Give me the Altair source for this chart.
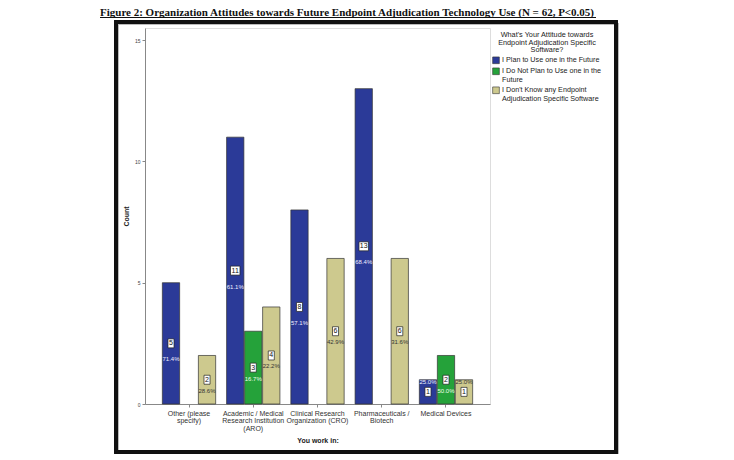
import altair as alt
import pandas as pd

categories = [
    "Other (please specify)",
    "Academic / Medical Research Institution (ARO)",
    "Clinical Research Organization (CRO)",
    "Pharmaceuticals / Biotech",
    "Medical Devices",
]
cat_lines = [
    ["Other (please", "specify)"],
    ["Academic / Medical", "Research Institution", "(ARO)"],
    ["Clinical Research", "Organization (CRO)"],
    ["Pharmaceuticals /", "Biotech"],
    ["Medical Devices"],
]
series = [
    "I Plan to Use one in the Future",
    "I Do Not Plan to Use one in the Future",
    "I Don't Know any Endpoint Adjudication Specific Software",
]
series_lines = [
    ["I Plan to Use one in the Future"],
    ["I Do Not Plan to Use one in the", "Future"],
    ["I Don't Know any Endpoint", "Adjudication Specific Software"],
]
plan = [5, 11, 8, 13, 1]
not_plan = [0, 3, 0, 0, 2]
dont_know = [2, 4, 6, 6, 1]
pct_plan = ["71.4%", "61.1%", "57.1%", "68.4%", "25.0%"]
pct_not = ["", "16.7%", "", "", "50.0%"]
pct_dk = ["28.6%", "22.2%", "42.9%", "31.6%", "25.0%"]
colors = ["#2b3a98", "#25a23a", "#cdc98e"]
title_text = "Figure 2: Organization Attitudes towards Future Endpoint Adjudication Technology Use (N = 62, P<0.05)"

rows = []
for s, vals, pcts in zip(series, [plan, not_plan, dont_know], [pct_plan, pct_not, pct_dk]):
    for c, v, p in zip(categories, vals, pcts):
        if v > 0:
            rows.append({"cat": c, "series": s, "count": v, "pct": p,
                         "digits": str(len(str(v)))})
df = pd.DataFrame(rows)


def js(s):
    return '"' + s.replace('"', '\\"') + '"'


def lines_expr(names, lines):
    expr = "datum.label"
    for n, l in zip(reversed(names), reversed(lines)):
        arr = "[" + ", ".join(js(x) for x in l) + "]"
        expr = f"datum.label == {js(n)} ? {arr} : ({expr})"
    return expr


FONT = "Liberation Sans"

x = alt.X("cat:N", sort=categories,
          scale=alt.Scale(paddingInner=0.17, paddingOuter=0.27),
          axis=alt.Axis(title="You work in:", labelAngle=0,
                        labelExpr=lines_expr(categories, cat_lines),
                        labelFontSize=7, labelLineHeight=7.5, labelColor="#333",
                        labelFont=FONT, labelPadding=2, tickSize=3,
                        titleFont=FONT, titleFontSize=7, titleFontWeight="bold",
                        titleColor="#222", titlePadding=5,
                        domainColor="#888", tickColor="#888"))
xoff = alt.XOffset("series:N", sort=series,
                   scale=alt.Scale(domain=series, paddingInner=0.04))
y = alt.Y("count:Q", scale=alt.Scale(domain=[0, 15.5], nice=False),
          axis=alt.Axis(title="Count", values=[0, 5, 10, 15], grid=False,
                        labelFontSize=5, labelFont=FONT, labelColor="#444",
                        tickSize=3, titleFont=FONT, titleFontSize=7,
                        titleFontWeight="bold", titleColor="#222", titlePadding=5,
                        domainColor="#888", tickColor="#888"))
ymid = alt.Y("mid:Q", scale=alt.Scale(domain=[0, 15.5], nice=False))

base = alt.Chart(df)

frame_shadow = base.mark_rect(fill=None, stroke="#bbbbbb", strokeWidth=2).encode(
    x=alt.value(-27), x2=alt.value(473), y=alt.value(-4), y2=alt.value(426))
frame = base.mark_rect(fill=None, stroke="#111111", strokeWidth=3).encode(
    x=alt.value(-29), x2=alt.value(471), y=alt.value(-6), y2=alt.value(424))
underline = base.mark_rule(stroke="#111", strokeWidth=1).encode(
    x=alt.value(-45), x2=alt.value(451), y=alt.value(-10.5))

bars = base.mark_bar(stroke="#333", strokeWidth=0.7).encode(
    x=x, xOffset=xoff, y=y,
    color=alt.Color("series:N", sort=series,
                    scale=alt.Scale(domain=series, range=colors),
                    legend=alt.Legend(
                        title=["What's Your Attitude towards",
                               "Endpoint Adjudication Specific", "Software?"],
                        orient="none", legendX=347, legendY=3,
                        titleFont=FONT, titleFontSize=7.3, titleFontWeight="normal",
                        titleColor="#222", titleAlign="center", titleAnchor="middle",
                        titleLineHeight=7.5, titlePadding=3,
                        labelFont=FONT, labelFontSize=7.2, labelColor="#222",
                        labelLimit=300, labelOffset=2,
                        labelExpr=lines_expr(series, series_lines),
                        symbolType="square", symbolSize=45,
                        symbolStrokeColor="#333", symbolStrokeWidth=0.6,
                        rowPadding=1)))

shape_scale = alt.Scale(domain=["1", "2"],
                        range=["M-0.67,-1H0.67V1H-0.67Z", "M-1.05,-1H1.05V1H-1.05Z"])
boxes = base.transform_calculate(mid="datum.count / 2").mark_point(
    filled=True, fill="white", stroke="#222", strokeWidth=0.7, size=81, opacity=1
).encode(x=x, xOffset=xoff, y=ymid,
         shape=alt.Shape("digits:N", scale=shape_scale, legend=None))
counts = base.transform_calculate(mid="datum.count / 2").mark_text(
    font=FONT, fontSize=7, color="#111", baseline="middle"
).encode(x=x, xOffset=xoff, y=ymid, text="count:Q")


def pct_layer(filt, dy, color):
    return base.transform_filter(filt).transform_calculate(
        mid="datum.count / 2").mark_text(
        font=FONT, fontSize=6, color=color, baseline="middle", dy=dy
    ).encode(x=x, xOffset=xoff, y=ymid, text="pct:N")


p_blue = pct_layer(f"datum.count > 1 && datum.series == {js(series[0])}", 16, "#f0f0ff")
p_green = pct_layer(f"datum.count > 1 && datum.series == {js(series[1])}", 11, "#f0fff0")
p_tan = pct_layer(f"datum.count > 1 && datum.series == {js(series[2])}", 11, "#333")
p_small_light = pct_layer(f"datum.count == 1 && datum.series != {js(series[2])}", -10, "#f0f0ff")
p_small_dark = pct_layer(f"datum.count == 1 && datum.series == {js(series[2])}", -10, "#333")

chart = alt.layer(
    frame_shadow, frame, underline, bars, boxes, counts,
    p_blue, p_green, p_tan, p_small_light, p_small_dark
).properties(
    width=345, height=376,
    autosize=alt.AutoSizeParams(type="none"),
    padding={"left": 137, "top": 20, "right": 230, "bottom": 50},
    title=alt.TitleParams(title_text, font="Liberation Serif", fontSize=11,
                          fontWeight="bold", color="#111", anchor="start",
                          frame="group", dx=-45, dy=5.5, offset=5),
).configure_view(fill="#ebebeb", stroke="#999").configure(background="white")

chart.save("out.html", embed_options={"renderer": "svg", "actions": False})
